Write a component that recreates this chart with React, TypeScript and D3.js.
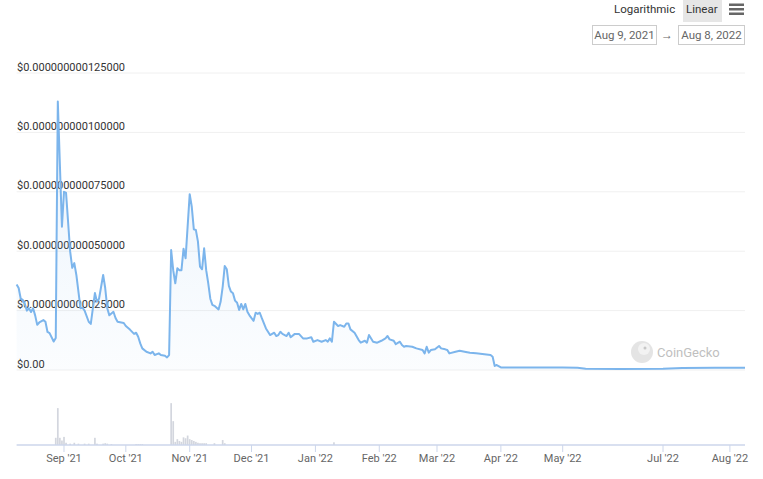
import * as d3 from "d3";

// price in units of 1e-12 USD
const PRICE_UNIT = 1e-12;

const priceDates = [
  "2021-08-09", "2021-08-10", "2021-08-11", "2021-08-12", "2021-08-13", "2021-08-14", "2021-08-15",
  "2021-08-16", "2021-08-17", "2021-08-18", "2021-08-19", "2021-08-20", "2021-08-22", "2021-08-23",
  "2021-08-24", "2021-08-25", "2021-08-27", "2021-08-28", "2021-08-29", "2021-08-31", "2021-09-01",
  "2021-09-02", "2021-09-04", "2021-09-05", "2021-09-06", "2021-09-07", "2021-09-09", "2021-09-10",
  "2021-09-11", "2021-09-13", "2021-09-14", "2021-09-16", "2021-09-17", "2021-09-18", "2021-09-20",
  "2021-09-21", "2021-09-22", "2021-09-23", "2021-09-25", "2021-09-26", "2021-09-27", "2021-09-30",
  "2021-10-01", "2021-10-03", "2021-10-05", "2021-10-06", "2021-10-07", "2021-10-08", "2021-10-09",
  "2021-10-11", "2021-10-13", "2021-10-14", "2021-10-15", "2021-10-17", "2021-10-18", "2021-10-20",
  "2021-10-21", "2021-10-22", "2021-10-23", "2021-10-24", "2021-10-25", "2021-10-26", "2021-10-27",
  "2021-10-28", "2021-10-29", "2021-10-30", "2021-11-01", "2021-11-02", "2021-11-03", "2021-11-04",
  "2021-11-05", "2021-11-06", "2021-11-07", "2021-11-08", "2021-11-09", "2021-11-10", "2021-11-11",
  "2021-11-12", "2021-11-13", "2021-11-15", "2021-11-16", "2021-11-17", "2021-11-18", "2021-11-19",
  "2021-11-20", "2021-11-21", "2021-11-22", "2021-11-23", "2021-11-24", "2021-11-25", "2021-11-26",
  "2021-11-27", "2021-11-28", "2021-11-29", "2021-11-30", "2021-12-01", "2021-12-02", "2021-12-03",
  "2021-12-04", "2021-12-05", "2021-12-06", "2021-12-08", "2021-12-09", "2021-12-10", "2021-12-12",
  "2021-12-13", "2021-12-14", "2021-12-15", "2021-12-16", "2021-12-18", "2021-12-19", "2021-12-20",
  "2021-12-22", "2021-12-24", "2021-12-26", "2021-12-28", "2021-12-30", "2021-12-31", "2022-01-02",
  "2022-01-04", "2022-01-06", "2022-01-07", "2022-01-08", "2022-01-09", "2022-01-10", "2022-01-12",
  "2022-01-13", "2022-01-15", "2022-01-16", "2022-01-17", "2022-01-18", "2022-01-20", "2022-01-22",
  "2022-01-23", "2022-01-25", "2022-01-26", "2022-01-27", "2022-01-29", "2022-01-31", "2022-02-02",
  "2022-02-04", "2022-02-05", "2022-02-06", "2022-02-08", "2022-02-09", "2022-02-11", "2022-02-12",
  "2022-02-13", "2022-02-14", "2022-02-17", "2022-02-19", "2022-02-22", "2022-02-23", "2022-02-24",
  "2022-02-25", "2022-02-26", "2022-02-28", "2022-03-02", "2022-03-03", "2022-03-05", "2022-03-06",
  "2022-03-07", "2022-03-10", "2022-03-12", "2022-03-15", "2022-03-17", "2022-03-20", "2022-03-23",
  "2022-03-27", "2022-03-28", "2022-03-29", "2022-03-30", "2022-04-01", "2022-04-04", "2022-04-20",
  "2022-05-01", "2022-05-10", "2022-05-15", "2022-06-05", "2022-07-01", "2022-07-10", "2022-07-25",
  "2022-08-08",
];

const priceValues = [
  36, 34.5, 30, 29.5, 27.8, 25, 26,
  24.4, 26, 23, 19, 20, 21, 20.3,
  16, 15.5, 12, 13.5, 113, 60.3, 75,
  74.5, 49.8, 43, 45, 40, 26, 26.2,
  25, 20.3, 19.4, 32.4, 28.7, 30, 40,
  34.5, 26, 23, 24.5, 21.9, 20.3, 19.8,
  18.5, 17, 15.2, 15.7, 14, 11.2, 9.1,
  7.7, 7, 7.7, 6.3, 7, 6.3, 6,
  5.3, 6.3, 50.5, 42, 36.5, 42.8, 42,
  42, 51, 47, 74, 68.7, 59.2, 58.9,
  54, 43.5, 42.4, 51.2, 42, 36.5, 30,
  27.4, 27, 25.5, 28.7, 35, 43.8, 42.4,
  35.4, 33, 32.3, 29.2, 28.3, 25.3, 27.8,
  25.5, 27.8, 24.5, 23, 21.8, 20.7, 24.1,
  23.6, 24.1, 21.8, 17.5, 16.1, 14.7, 15.7,
  14.3, 14.7, 16.1, 15.2, 14.3, 15.7, 13.8,
  15.2, 15.2, 13.3, 13.3, 13.8, 11.9, 12.6,
  11.9, 12.6, 11.9, 13.3, 11.9, 20.3, 18.5,
  18.9, 18.2, 19.6, 19.6, 17.1, 15.7, 12.6,
  11.5, 12.3, 11.5, 14.7, 11.9, 11.5, 12.3,
  13.3, 14.3, 12.9, 12.3, 10.9, 11.9, 10.5,
  9.8, 10.1, 9.8, 9.1, 8.4, 7, 9.8,
  7.3, 8.4, 8.7, 10.1, 9.1, 8.7, 8.4,
  7, 7.7, 8.1, 7.6, 7.3, 7, 6.7,
  6.3, 5.6, 1.7, 2.1, 1.1, 1.0, 1.0,
  1.0, 0.9, 0.5, 0.4, 0.5, 0.8, 0.9,
  0.9,
];

const volumeDates = [
  "2021-08-28", "2021-08-29", "2021-08-30", "2021-08-31", "2021-09-01", "2021-09-02", "2021-09-04",
  "2021-09-06", "2021-09-08", "2021-09-11", "2021-09-13", "2021-09-16", "2021-09-17", "2021-09-20",
  "2021-09-21", "2021-09-22", "2021-09-24", "2021-10-06", "2021-10-07", "2021-10-08", "2021-10-09",
  "2021-10-23", "2021-10-24", "2021-10-25", "2021-10-26", "2021-10-27", "2021-10-28", "2021-10-29",
  "2021-10-30", "2021-10-31", "2021-11-01", "2021-11-02", "2021-11-03", "2021-11-04", "2021-11-05",
  "2021-11-06", "2021-11-07", "2021-11-08", "2021-11-09", "2021-11-13", "2021-11-17", "2021-11-18",
  "2022-01-10",
];

// relative volume (0-100)
const volumeValues = [
  16, 82, 16, 10, 18, 5, 3,
  5, 3, 3, 3, 16, 3, 3,
  4, 3, 2, 2, 2, 2, 2,
  93, 53, 7, 13, 9, 7, 17,
  15, 21, 13, 11, 9, 7, 5,
  4, 4, 4, 4, 4, 11, 4,
  6,
];

const monthTicks = [
  "2021-09-01", "2021-10-01", "2021-11-01", "2021-12-01", "2022-01-01", "2022-02-01",
  "2022-03-01", "2022-04-01", "2022-05-01", "2022-07-01", "2022-08-01",
];

const priceTicks = [0, 25, 50, 75, 100, 125];

// axis is compressed over the missing data in May/June
const axisBreaks = ["2022-05-01", "2022-07-01"];
const rangeStart = "2021-08-09";
const rangeEnd = "2022-08-08";

const WIDTH = 763;
const HEIGHT = 479;

const FONT = "Roboto, 'Liberation Sans', Arial, sans-serif";

const PLOT = {
  xStops: [16.6, 562.7, 663, 745],
  top: 73,
  bottom: 370,
  lineColor: "#7cb5ec",
  lineWidth: 2,
  gridColor: "#f0f0f0",
};

const NAV = {
  axisY: 445,
  top: 400,
  barWidth: 1.7,
  barColor: "#d3d6de",
  axisColor: "#ccd6eb",
  tickLen: 7,
};

const parse = d3.timeParse("%Y-%m-%d");

export default function App() {
  const xScale = d3
    .scaleTime()
    .domain([rangeStart, ...axisBreaks, rangeEnd].map((d) => parse(d)!))
    .range(PLOT.xStops);

  const yScale = d3.scaleLinear().domain([0, 125]).range([PLOT.bottom, PLOT.top]);
  const volScale = d3.scaleLinear().domain([0, 100]).range([NAV.axisY, NAV.top]);

  const points = priceDates.map((d, i) => ({ t: parse(d)!, v: priceValues[i] }));

  const line = d3
    .line<{ t: Date; v: number }>()
    .x((p) => xScale(p.t))
    .y((p) => yScale(p.v));

  const area = d3
    .area<{ t: Date; v: number }>()
    .x((p) => xScale(p.t))
    .y0(yScale(0))
    .y1((p) => yScale(p.v));

  const fmtMonth = d3.timeFormat("%b '%y");
  const fmtPrice = (v: number) => (v === 0 ? "$0.00" : "$" + (v * PRICE_UNIT).toFixed(15));

  const [x0, , , x1] = PLOT.xStops;

  return (
    <svg
      width={WIDTH}
      height={HEIGHT}
      style={{ position: "absolute", left: 0, top: 0, background: "#fff" }}
      xmlns="http://www.w3.org/2000/svg"
      fontFamily={FONT}
    >
      <defs>
        <linearGradient id="areaFill" x1="0" y1="0" x2="0" y2="1">
          <stop offset="0%" stopColor="#7cb5ec" stopOpacity={0.16} />
          <stop offset="100%" stopColor="#7cb5ec" stopOpacity={0.03} />
        </linearGradient>
      </defs>

      {/* grid + y labels */}
      <g className="y-axis">
        {priceTicks.map((t) => (
          <g key={t}>
            <line x1={x0} x2={x1} y1={yScale(t)} y2={yScale(t)} stroke={PLOT.gridColor} />
            <text x={17} y={yScale(t) - 2.5} fontSize={11} fill="#333">
              {fmtPrice(t)}
            </text>
          </g>
        ))}
      </g>

      {/* watermark */}
      <g className="watermark" opacity={0.55}>
        <circle cx={642} cy={352} r={11} fill="#cfcfcf" />
        <circle cx={644} cy={349} r={6} fill="#e8e8e8" />
        <circle cx={645} cy={348} r={1.5} fill="#9a9a9a" />
        <text x={657} y={356.5} fontSize={13} fill="#8c8c8c">
          CoinGecko
        </text>
      </g>

      <path d={area(points) ?? undefined} fill="url(#areaFill)" />
      <path
        d={line(points) ?? undefined}
        fill="none"
        stroke={PLOT.lineColor}
        strokeWidth={PLOT.lineWidth}
        strokeLinejoin="round"
      />

      {/* volume */}
      <g className="volume">
        {volumeDates.map((d, i) => {
          const x = xScale(parse(d)!);
          const y = volScale(volumeValues[i]);
          return (
            <rect
              key={d}
              x={x - NAV.barWidth / 2}
              y={y}
              width={NAV.barWidth}
              height={NAV.axisY - y}
              fill={NAV.barColor}
            />
          );
        })}
      </g>

      {/* x axis */}
      <g className="x-axis">
        <line x1={x0} x2={x1} y1={NAV.axisY} y2={NAV.axisY} stroke={NAV.axisColor} strokeWidth={1.5} />
        {monthTicks.map((d) => {
          const x = xScale(parse(d)!);
          return (
            <g key={d}>
              <line x1={x} x2={x} y1={NAV.axisY} y2={NAV.axisY + NAV.tickLen} stroke={NAV.axisColor} />
              <text x={x} y={NAV.axisY + 17} fontSize={11} fill="#666" textAnchor="middle">
                {fmtMonth(parse(d)!)}
              </text>
            </g>
          );
        })}
      </g>

      {/* controls */}
      <g className="controls" fontSize={11.5}>
        <text x={614} y={13} fill="#333">
          Logarithmic
        </text>
        <rect x={683} y={0} width={39} height={22} fill="#e6e6e6" />
        <text x={686} y={13} fill="#333">
          Linear
        </text>
        {[3.5, 8, 12.5].map((y) => (
          <rect key={y} x={729} y={y} width={15} height={2.5} fill="#666" />
        ))}
        <rect x={592.5} y={25.5} width={64} height={19} fill="#fff" stroke="#ccc" />
        <text x={624.5} y={39} fill="#666" textAnchor="middle">
          Aug 9, 2021
        </text>
        <text x={667} y={39} fill="#666" textAnchor="middle" fontSize={12}>
          →
        </text>
        <rect x={678.5} y={25.5} width={66} height={19} fill="#fff" stroke="#ccc" />
        <text x={711.5} y={39} fill="#666" textAnchor="middle">
          Aug 8, 2022
        </text>
      </g>
    </svg>
  );
}
